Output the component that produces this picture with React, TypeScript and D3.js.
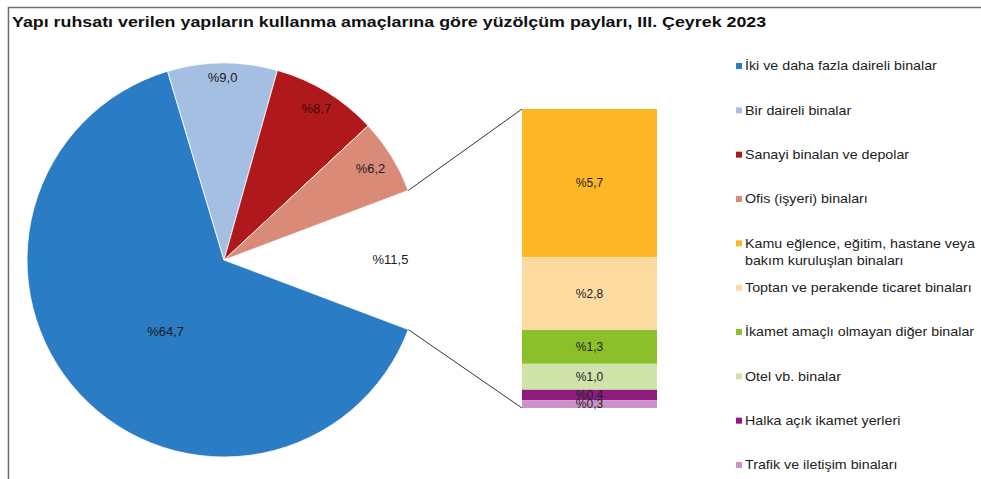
import { useEffect, useRef } from "react";
import * as d3 from "d3";

const title =
  "Yapı ruhsatı verilen yapıların kullanma amaçlarına göre yüzölçüm payları, III. Çeyrek 2023";

// pie part (last slice is the "other" group expanded into the bar)
const pieCategories = [
  "İki ve daha fazla daireli binalar",
  "Bir daireli binalar",
  "Sanayi binaları ve depolar",
  "Ofis (işyeri) binaları",
  "Diğer",
];
const pieValues = [64.7, 9.0, 8.7, 6.2, 11.5];
const pieLabels = ["%64,7", "%9,0", "%8,7", "%6,2", "%11,5"];
const pieColors = ["#2A7DC4", "#A5BFE3", "#B0191B", "#D98B78", "none"];

// stacked bar for the "other" group, top to bottom
const barValues = [5.7, 2.8, 1.3, 1.0, 0.4, 0.3];
const barLabels = ["%5,7", "%2,8", "%1,3", "%1,0", "%0,4", "%0,3"];
const barColors = ["#FDB726", "#FDDBA0", "#8CC02A", "#CFE3AA", "#8F1A80", "#C993C8"];

const legendLabels = [
  ["İki ve daha fazla daireli binalar"],
  ["Bir daireli binalar"],
  ["Sanayi binalan ve depolar"],
  ["Ofis (işyeri) binaları"],
  ["Kamu eğlence, eğitim, hastane veya", "bakım kuruluşlan binaları"],
  ["Toptan ve perakende ticaret binaları"],
  ["İkamet amaçlı olmayan diğer binalar"],
  ["Otel vb. binalar"],
  ["Halka açık ikamet yerleri"],
  ["Trafik ve iletişim binaları"],
];
const legendColors = [...pieColors.slice(0, 4), ...barColors];

export default function App() {
  const svgRef = useRef<SVGSVGElement>(null);

  useEffect(() => {
    document.body.style.margin = "0";
    if (!svgRef.current) return;
    const svg = d3.select(svgRef.current);
    svg.selectAll("*").remove();

    const W = 981;
    const H = 479;
    const font = "Liberation Sans, Arial, sans-serif";
    const stretch = 1.19; // source image text is a bit wider than Arial
    svg.attr("width", W).attr("height", H).style("font-family", font);

    svg.append("rect").attr("width", W).attr("height", H).attr("fill", "#fff");

    // frame (only top and left edges show)
    svg
      .append("path")
      .attr("d", `M8.5,${H} V7.5 H${W}`)
      .attr("fill", "none")
      .attr("stroke", "#6e6e6e")
      .attr("stroke-width", 1.5);

    svg
      .append("text")
      .attr("transform", `translate(12,27) scale(${stretch},1)`)
      .attr("fill", "#111")
      .style("font-size", "15px")
      .style("font-weight", "bold")
      .text(title);

    // pie, the "other" gap centred on 3 o'clock
    const cx = 224;
    const cy = 260;
    const r = 197;
    const total = d3.sum(pieValues);
    const otherSpan = (pieValues[4] / total) * 2 * Math.PI;
    const startAngle = Math.PI / 2 + otherSpan / 2;

    const pie = d3
      .pie<number>()
      .sort(null)
      .value((d) => d)
      .startAngle(startAngle)
      .endAngle(startAngle + 2 * Math.PI);
    const arcs = pie(pieValues);
    const arc = d3.arc<d3.PieArcDatum<number>>().innerRadius(0).outerRadius(r);

    const g = svg.append("g").attr("transform", `translate(${cx},${cy})`);
    g.selectAll("path.slice")
      .data(arcs)
      .join("path")
      .attr("class", "slice")
      .attr("d", arc)
      .attr("fill", (_, i) => pieColors[i])
      .attr("stroke", (_, i) => (pieColors[i] === "none" ? "none" : "#fff"))
      .attr("stroke-width", 0.8);

    const labelRadius = [0.47, 0.925, 0.9, 0.875, 0.845];
    const labelShift = [-8, 0, 0, 0, 0]; // degrees
    g.selectAll("text.pl")
      .data(arcs)
      .join("text")
      .attr("class", "pl")
      .attr("transform", (d, i) => {
        const a = (d.startAngle + d.endAngle) / 2 + (labelShift[i] * Math.PI) / 180;
        const rr = r * labelRadius[i];
        return `translate(${Math.sin(a) * rr},${-Math.cos(a) * rr}) scale(1.08,1)`;
      })
      .attr("text-anchor", "middle")
      .attr("dy", "0.35em")
      .attr("fill", (_, i) => (i === 2 ? "#3a0606" : "#1a1a1a"))
      .style("font-size", "12px")
      .text((_, i) => pieLabels[i]);

    // bar of the "other" group
    const barX = 522;
    const barW = 135;
    const y = d3.scaleLinear().domain([0, d3.sum(barValues)]).range([109, 408]);
    const cum = d3.cumsum(barValues);
    const segs = barValues.map((v, i) => ({ v, y0: cum[i] - v, y1: cum[i], i }));

    svg
      .append("g")
      .selectAll("rect")
      .data(segs)
      .join("rect")
      .attr("x", barX)
      .attr("y", (d) => y(d.y0))
      .attr("width", barW)
      .attr("height", (d) => y(d.y1) - y(d.y0))
      .attr("fill", (d) => barColors[d.i]);

    svg
      .append("g")
      .selectAll("text")
      .data(segs)
      .join("text")
      .attr("x", barX + barW / 2)
      .attr("y", (d) => (y(d.y0) + y(d.y1)) / 2)
      .attr("dy", "0.35em")
      .attr("text-anchor", "middle")
      .attr("fill", "#222")
      .style("font-size", "12px")
      .text((d) => barLabels[d.i]);

    // connector lines from the gap edges to the bar corners
    const other = arcs[4];
    const pt = (a: number) => [cx + Math.sin(a) * r, cy - Math.cos(a) * r];
    const [x1, y1] = pt(other.startAngle);
    const [x2, y2] = pt(other.endAngle);
    const [top, bottom] = y.range();
    svg
      .append("g")
      .attr("stroke", "#333")
      .attr("stroke-width", 1)
      .selectAll("line")
      .data([
        [x1, y1, barX, top],
        [x2, y2, barX, bottom],
      ])
      .join("line")
      .attr("x1", (d) => d[0])
      .attr("y1", (d) => d[1])
      .attr("x2", (d) => d[2])
      .attr("y2", (d) => d[3]);

    // legend
    const ly = d3
      .scalePoint<number>()
      .domain(d3.range(legendLabels.length))
      .range([66, 465]);
    const lg = svg
      .append("g")
      .selectAll("g")
      .data(legendLabels)
      .join("g")
      .attr("transform", (_, i) => `translate(736,${ly(i)})`);
    lg.append("rect")
      .attr("x", 0)
      .attr("y", -3)
      .attr("width", 6)
      .attr("height", 6)
      .attr("fill", (_, i) => legendColors[i]);
    lg.each(function (lines) {
      const sel = d3.select(this);
      lines.forEach((t, k) => {
        sel
          .append("text")
          .attr("transform", `translate(9,${k * 17}) scale(${stretch},1)`)
          .attr("dy", "0.35em")
          .attr("fill", "#222")
          .style("font-size", "12px")
          .text(t);
      });
    });

    void pieCategories;
  }, []);

  return <svg ref={svgRef} style={{ display: "block" }} />;
}
